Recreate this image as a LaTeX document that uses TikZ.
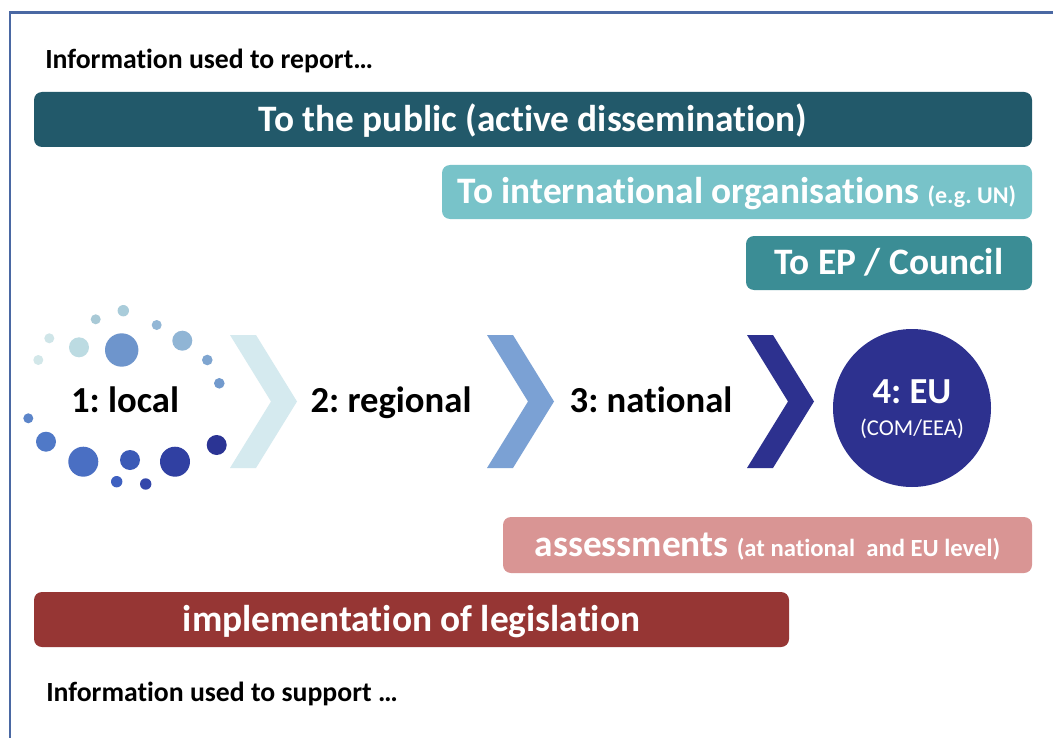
\documentclass[tikz,border=0pt]{standalone}
\usepackage{fontspec}
\setmainfont{Carlito}[Ligatures=NoCommon]
\frenchspacing
\definecolor{frame}{HTML}{4A68A3}
\definecolor{barA}{HTML}{22596A}
\definecolor{barB}{HTML}{78C3C9}
\definecolor{barC}{HTML}{3B8D95}
\definecolor{barD}{HTML}{D99594}
\definecolor{barE}{HTML}{963634}
\definecolor{chevA}{HTML}{D5EAEF}
\definecolor{chevB}{HTML}{7BA1D4}
\definecolor{navy}{HTML}{2D318F}
\begin{document}
\begin{tikzpicture}[x=0.75pt,y=-0.75pt,
  bar/.style={rounded corners=6pt, inner sep=0pt, text=white, text height=22.4pt, text depth=4.5pt, font=\bfseries\fontsize{28}{33}\selectfont},
  lvl/.style={font=\bfseries\fontsize{27.5}{32}\selectfont, anchor=base, inner sep=0pt},
  info/.style={font=\bfseries\fontsize{20.8}{25}\selectfont, anchor=base west, inner sep=0pt}]
\useasboundingbox (0,0) rectangle (1053,738);
\fill[white] (0,0) rectangle (1053,738);
\draw[frame, line width=2pt] (1053,12.5) -- (10,12.5) -- (10,738);
% texts
\node[info] (report) at (45,68.5) {Information used to report…};
\node[info] (support) at (46,701) {Information used to support …};
% bars
\node[bar, fill=barA, minimum width=748.5pt, minimum height=41.25pt] (public) at (533,119.5) {To the public (active dissemination)};
\node[bar, fill=barB, minimum width=442.5pt, minimum height=40.5pt] (intl) at (737,192) {To international organisations {\fontsize{18}{21}\selectfont(e.g. UN)}};
\node[bar, fill=barC, minimum width=214.5pt, minimum height=40.5pt] (ep) at (889,263) {To EP / Council};
\node[bar, fill=barD, minimum width=396.75pt, minimum height=42pt] (assess) at (767.5,545) {assessments {\fontsize{18.5}{21}\selectfont(at national\ \ and EU level)}};
\node[bar, fill=barE, minimum width=566.25pt, minimum height=41.25pt] (impl) at (411.5,619.5) {implementation of legislation};
% dots
\foreach \x/\y/\r/\c in {123.3/310.7/5.7/A9CCDA, 95.7/319.3/5/A8C9D6, 156.7/325/5/93B7D6,
  49.3/338.3/5/CFE5E8, 79/347.3/10/BCDBE2, 121.7/350/16.7/6E95CC, 182.3/340.7/10/90B5D5,
  38.3/360/5/D2E7E9, 207.3/360/5.3/7FA5D0, 219.3/383.3/5.3/729ACD, 28.3/418.3/5/5C85C9,
  46/441.7/10/5079C7, 83.3/461.7/15/4A6FC3, 130/460/10/3B5AB6, 175/461.7/15/3040A2,
  216.7/445/10/2B3494, 116.7/481.7/5.7/3E60C0, 145.7/484/5.7/3447AA}{
  \definecolor{dc}{HTML}{\c}
  \fill[dc] (\x,\y) circle[radius=\r*0.75pt];
}
% chevrons
\fill[chevA] (230,335) -- (256,335) -- (297,401.5) -- (256,468) -- (230,468) -- (271,401.5) -- cycle;
\fill[chevB] (487,335) -- (513,335) -- (554,401.5) -- (513,468) -- (487,468) -- (528,401.5) -- cycle;
\fill[navy] (747,335) -- (773,335) -- (814,401.5) -- (773,468) -- (747,468) -- (788,401.5) -- cycle;
% levels
\node[lvl] (local) at (125,412.5) {1: local};
\node[lvl] (regional) at (391,412.5) {2: regional};
\node[lvl] (national) at (651,412.5) {3: national};
\node[circle, fill=navy, minimum size=118.5pt, inner sep=0pt] (eu) at (912,408) {};
\node[lvl, text=white] (eutitle) at (912,403) {4: EU};
\node[anchor=base, inner sep=0pt, text=white, font=\fontsize{17}{20}\selectfont] (eusub) at (912,435) {(COM/EEA)};
\end{tikzpicture}
\end{document}
